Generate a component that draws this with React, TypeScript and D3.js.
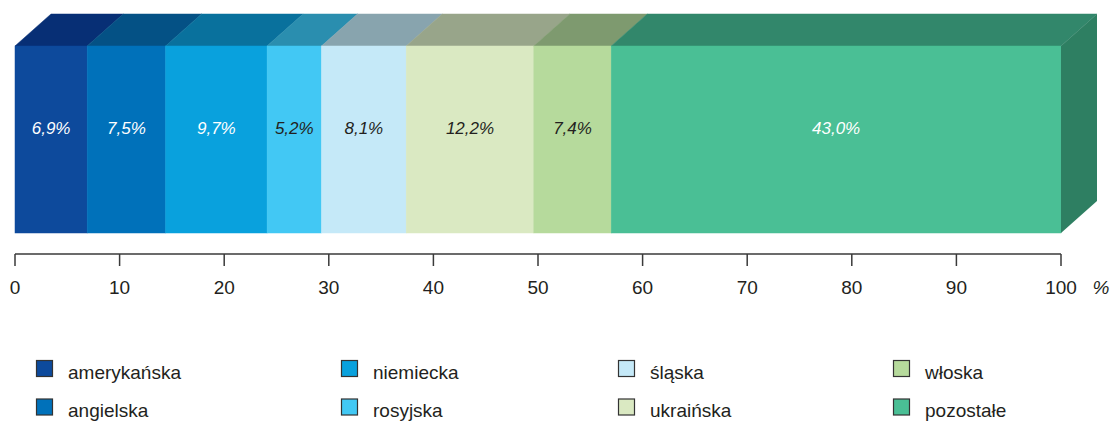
import React from "react";
import * as d3 from "d3";

const categories = ["amerykańska", "angielska", "niemiecka", "rosyjska", "śląska", "ukraińska", "włoska", "pozostałe"];
const values = [6.9, 7.5, 9.7, 5.2, 8.1, 12.2, 7.4, 43.0];
const frontColors = ["#0D4A9C", "#0071BA", "#09A1DD", "#42C8F4", "#C5E9F8", "#DAE9C2", "#B6DA9C", "#4ABF95"];
const topColors = ["#072F75", "#045185", "#09719D", "#2A8EAF", "#88A4AE", "#98A58A", "#7E9A6F", "#32876B"];
const sideColor = "#2E7F62";
const labelColors = ["#fff", "#fff", "#fff", "#231F20", "#231F20", "#231F20", "#231F20", "#fff"];
const ticks = [0, 10, 20, 30, 40, 50, 60, 70, 80, 90, 100];
const legendOrder = [[0, 1], [2, 3], [4, 5], [6, 7]];

const FONT = "'Liberation Sans', Arial, Helvetica, sans-serif";

export default function App() {
  const W = 1110, H = 421;
  const x = d3.scaleLinear().domain([0, 100]).range([15, 1061]);
  const y0 = 46, y1 = 233, dx = 36, dy = 32;
  const axisY = 254;
  let cum = 0;
  const segs = values.map((v, i) => {
    const s = cum;
    cum += v;
    return { i, s, e: cum, v };
  });
  const fmt = (v: number) => v.toFixed(1).replace(".", ",") + "%";
  const legendX = [36, 341, 618, 893];
  const legendY = [378.5, 417];
  return (
    <svg width={W} height={H} style={{ position: "absolute", left: 0, top: 0, fontFamily: FONT }}>
      {segs.map((d) => {
        const xa = x(d.s), xb = x(d.e);
        return (
          <g key={d.i}>
            <path d={`M${xa},${y0}L${xa + dx},${y0 - dy}L${xb + dx},${y0 - dy}L${xb},${y0}Z`} fill={topColors[d.i]} stroke={topColors[d.i]} strokeWidth={0.5} />
            <rect x={xa} y={y0} width={xb - xa} height={y1 - y0} fill={frontColors[d.i]} stroke={frontColors[d.i]} strokeWidth={0.5} />
            <text x={(xa + xb) / 2} y={134} textAnchor="middle" fontStyle="italic" fontSize={17} fill={labelColors[d.i]}>{fmt(d.v)}</text>
          </g>
        );
      })}
      <path d={`M${x(100)},${y0}L${x(100) + dx},${y0 - dy}L${x(100) + dx},${y1 - dy}L${x(100)},${y1}Z`} fill={sideColor} />
      <line x1={x(0)} x2={x(100)} y1={axisY} y2={axisY} stroke="#3a3a3a" strokeWidth={1.5} />
      {ticks.map((t) => (
        <g key={t}>
          <line x1={x(t)} x2={x(t)} y1={axisY} y2={axisY + 12} stroke="#3a3a3a" strokeWidth={1.5} />
          <text x={x(t)} y={294} textAnchor="middle" fontSize={19} fill="#231F20">{t}</text>
        </g>
      ))}
      <text x={1101} y={294} textAnchor="middle" fontSize={19} fontStyle="italic" fill="#231F20">%</text>
      {legendOrder.map((col, ci) =>
        col.map((idx, ri) => (
          <g key={idx}>
            <rect x={legendX[ci] + 0.5} y={legendY[ri] - 18} width={16} height={16} fill={frontColors[idx]} stroke="#333" strokeWidth={1.2} />
            <text x={legendX[ci] + 32} y={legendY[ri]} fontSize={19} fill="#231F20">{categories[idx]}</text>
          </g>
        ))
      )}
    </svg>
  );
}
